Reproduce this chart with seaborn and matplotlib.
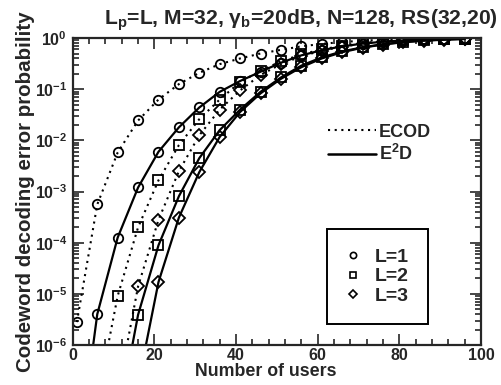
import numpy as np
import pandas as pd
import matplotlib
matplotlib.use("Agg")
import matplotlib.pyplot as plt
import seaborn as sns
from matplotlib.lines import Line2D
from matplotlib.ticker import LogLocator, MultipleLocator, NullFormatter, FixedLocator

nan = np.nan
users = [1, 6, 11, 16, 21, 26, 31, 36, 41, 46, 51, 56, 61, 66, 71, 76, 81, 86, 91, 96]

ecod_L1 = [2.8e-6, 5.6e-4, 5.8e-3, 0.0245, 0.063, 0.126, 0.21, 0.31, 0.40, 0.50,
           0.59, 0.69, 0.77, 0.84, 0.89, 0.93, 0.95, 0.97, 0.98, 0.99]
e2d_L1 = [4e-9, 4e-6, 1.26e-4, 1.2e-3, 6.0e-3, 0.018, 0.044, 0.089, 0.145, 0.22,
          0.33, 0.46, 0.58, 0.69, 0.78, 0.85, 0.90, 0.94, 0.96, 0.98]
ecod_L2 = [nan, 8e-8, 9.1e-6, 2.0e-4, 1.66e-3, 8.1e-3, 0.026, 0.063, 0.138, 0.23,
           0.35, 0.48, 0.60, 0.71, 0.80, 0.87, 0.92, 0.95, 0.97, 0.98]
e2d_L2 = [nan, nan, 3e-8, 3.9e-6, 8.9e-5, 8.1e-4, 4.5e-3, 0.0159, 0.040, 0.089,
          0.17, 0.29, 0.42, 0.55, 0.66, 0.76, 0.84, 0.90, 0.94, 0.97]
ecod_L3 = [nan, nan, 1.1e-7, 1.4e-5, 2.8e-4, 2.5e-3, 0.0126, 0.040, 0.095, 0.19,
           0.31, 0.44, 0.57, 0.68, 0.78, 0.85, 0.91, 0.94, 0.96, 0.98]
e2d_L3 = [nan, nan, nan, 1.7e-7, 1.7e-5, 3.1e-4, 2.4e-3, 0.0117, 0.036, 0.083,
          0.16, 0.27, 0.40, 0.53, 0.65, 0.75, 0.83, 0.89, 0.93, 0.96]

y_ticks = [1e-6, 1e-5, 1e-4, 1e-3, 1e-2, 1e-1, 1e0]
x_ticks = [0, 20, 40, 60, 80, 100]

series = [
    ("ECOD", "L=1", ecod_L1), ("E2D", "L=1", e2d_L1),
    ("ECOD", "L=2", ecod_L2), ("E2D", "L=2", e2d_L2),
    ("ECOD", "L=3", ecod_L3), ("E2D", "L=3", e2d_L3),
]
markers = {"L=1": "o", "L=2": "s", "L=3": "D"}
msizes = {"L=1": 6.8, "L=2": 6.8, "L=3": 5.8}
lstyles = {"ECOD": (0, (1, 2.2)), "E2D": "-"}

sns.set_style("ticks")
plt.rcParams['font.family'] = ['Liberation Sans', 'DejaVu Sans']
plt.rcParams['font.weight'] = 'bold'
plt.rcParams['mathtext.fontset'] = 'custom'
plt.rcParams['mathtext.rm'] = 'Liberation Sans:bold'
plt.rcParams['mathtext.it'] = 'Liberation Sans:italic:bold'
plt.rcParams['mathtext.bf'] = 'Liberation Sans:bold'
plt.rcParams['mathtext.default'] = 'regular'

fig = plt.figure(figsize=(5.02, 3.85), dpi=100)
ax = fig.add_axes([0.145, 0.104, 0.813, 0.797])

for scheme, L, vals in series:
    df = pd.DataFrame({"users": users, "p": vals}).dropna()
    sns.lineplot(data=df, x="users", y="p", ax=ax, color="black",
                 linestyle=lstyles[scheme], linewidth=1.6 if scheme == "E2D" else 1.5,
                 marker=markers[L], markersize=msizes[L], markerfacecolor="none",
                 markeredgecolor="black", markeredgewidth=1.3, legend=False)

ax.set_yscale("log")
ax.set_xlim(0, 100)
ax.set_ylim(1e-6, 1)
ax.xaxis.set_major_locator(FixedLocator(x_ticks))
ax.xaxis.set_minor_locator(MultipleLocator(4))
ax.yaxis.set_major_locator(FixedLocator(y_ticks))
ax.yaxis.set_minor_locator(LogLocator(base=10, subs=np.arange(2, 10), numticks=10))
ax.yaxis.set_minor_formatter(NullFormatter())
ax.set_yticklabels([f"$10^{{{int(np.log10(v))}}}$" for v in y_ticks])
ax.tick_params(which="both", direction="in", top=True, right=True, width=1.2,
               labelsize=11.5)
ax.tick_params(axis="x", pad=2)
ax.tick_params(axis="y", pad=4)
ax.tick_params(which="major", length=8)
ax.tick_params(which="minor", length=4)
for s in ax.spines.values():
    s.set_linewidth(1.6)
ax.set_xlabel("")
ax.set_ylabel("")
ax.xaxis.label.set_visible(False)
ax.yaxis.label.set_visible(False)

renderer = fig.canvas.get_renderer()


def fit_text(t, target, horizontal=True):
    bb = t.get_window_extent(renderer)
    w = bb.width if horizontal else bb.height
    t.set_fontsize(t.get_fontsize() * target / w)


title = fig.text(301 / 502, 1 - 20 / 385, "L$_{p}$=L, M=32, γ$_{b}$=20dB, N=128, RS(32,20)",
                 ha="center", va="center", fontsize=14)
fit_text(title, 395)
xl = fig.text(266 / 502, 1 - 371 / 385, "Number of users", ha="center", va="center",
              fontsize=14)
fit_text(xl, 142)
yl = fig.text(26 / 502, 1 - 192 / 385, "Codeword decoding error probability",
              rotation=90, ha="center", va="center", fontsize=14)
fit_text(yl, 362, horizontal=False)

fs1 = 13
h1 = [Line2D([], [], color="black", linestyle=lstyles["ECOD"], linewidth=1.5),
      Line2D([], [], color="black", linestyle="-", linewidth=1.8)]
leg1 = ax.legend(h1, ["ECOD", "E$^2$D"], loc="upper left",
                 bbox_to_anchor=(0.607, 0.745), frameon=False, fontsize=fs1,
                 handlelength=2.7, handletextpad=0.12, labelspacing=0.2,
                 borderaxespad=0)
ax.add_artist(leg1)

h2 = [Line2D([], [], color="black", linestyle="none", marker=markers[L],
             markersize=4.5, markerfacecolor="none", markeredgewidth=1.2)
      for L in ["L=1", "L=2", "L=3"]]
leg2 = ax.legend(h2, ["L=1", "L=2", "L=3"], loc="lower left",
                 bbox_to_anchor=(0.623, 0.068), fontsize=14, frameon=True,
                 fancybox=False, edgecolor="black", borderpad=0.98,
                 handletextpad=0.77, labelspacing=0.1, borderaxespad=0,
                 handlelength=0.72)
leg2.get_frame().set_linewidth(1.4)
leg2.get_frame().set_facecolor("white")
leg2.get_frame().set_alpha(1)

fig.savefig("out.png", dpi=100)
